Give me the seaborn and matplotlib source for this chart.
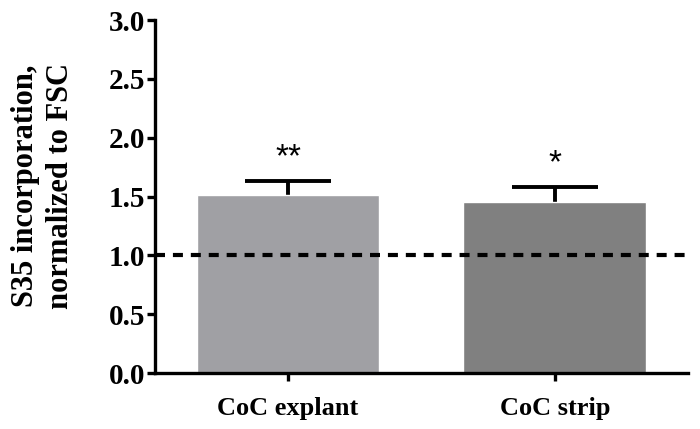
import matplotlib
matplotlib.use('Agg')
import matplotlib.pyplot as plt
import seaborn as sns
import pandas as pd

# Daten
categories = ['CoC explant', 'CoC strip']
means = [1.51, 1.455]
errors = [0.12, 0.125]
stars = ['**', '*']
bar_colors = ['#A0A0A4', '#808080']
baseline = 1.0

sns.set_style('ticks', {'axes.edgecolor': 'black', 'text.color': 'black',
                        'axes.labelcolor': 'black', 'xtick.color': 'black',
                        'ytick.color': 'black'})
plt.rcParams['font.family'] = ['Liberation Serif', 'DejaVu Serif']
plt.rcParams['font.weight'] = 'bold'

df = pd.DataFrame({'group': categories, 'value': means})

fig = plt.figure(figsize=(7, 4.29), dpi=100)
ax = fig.add_axes([0.221, 0.1305, 0.762, 0.8225])

sns.barplot(data=df, x='group', y='value', hue='group', palette=bar_colors,
            width=0.685, errorbar=None, legend=False, saturation=1, ax=ax, zorder=2)

# symmetrische Fehlerbalken hinter den Balken -> nur oberer Teil sichtbar
xs = list(range(len(categories)))
ax.errorbar(xs, means, yerr=errors, fmt='none', ecolor='black',
            elinewidth=2.8, capsize=31, capthick=2.8, zorder=1)

for x, m, e, s in zip(xs, means, errors, stars):
    ax.text(x, m + e + 0.07, s, ha='center', va='bottom', fontsize=24, color='black',
            family=['Liberation Sans', 'DejaVu Sans'], fontweight='normal')

ax.axhline(baseline, color='black', linestyle=(0, (2.4, 1.9)), linewidth=3, zorder=3)

ax.set_xlim(-0.5, 1.5)
ax.set_ylim(0, 3.0)
ax.set_yticks([0, 0.5, 1.0, 1.5, 2.0, 2.5, 3.0])
ax.set_yticklabels([f'{v:.1f}' for v in [0, 0.5, 1.0, 1.5, 2.0, 2.5, 3.0]])
ax.set_xlabel('')
ax.set_ylabel('S35 incorporation,\nnormalized to FSC', fontsize=22, fontweight='bold',
              linespacing=1.25, color='black')
ax.yaxis.set_label_coords(-0.15, 0.53)

for side in ['top', 'right']:
    ax.spines[side].set_visible(False)
for side in ['left', 'bottom']:
    ax.spines[side].set_linewidth(2.4)
    ax.spines[side].set_color('black')
ax.tick_params(axis='both', width=2.4, length=6, direction='out',
               color='black', labelcolor='black')
ax.tick_params(axis='y', labelsize=21, pad=1)
ax.tick_params(axis='x', labelsize=19, pad=11)
for lbl in ax.get_xticklabels() + ax.get_yticklabels():
    lbl.set_fontweight('bold')

plt.savefig('out.png', dpi=100)
plt.close()
